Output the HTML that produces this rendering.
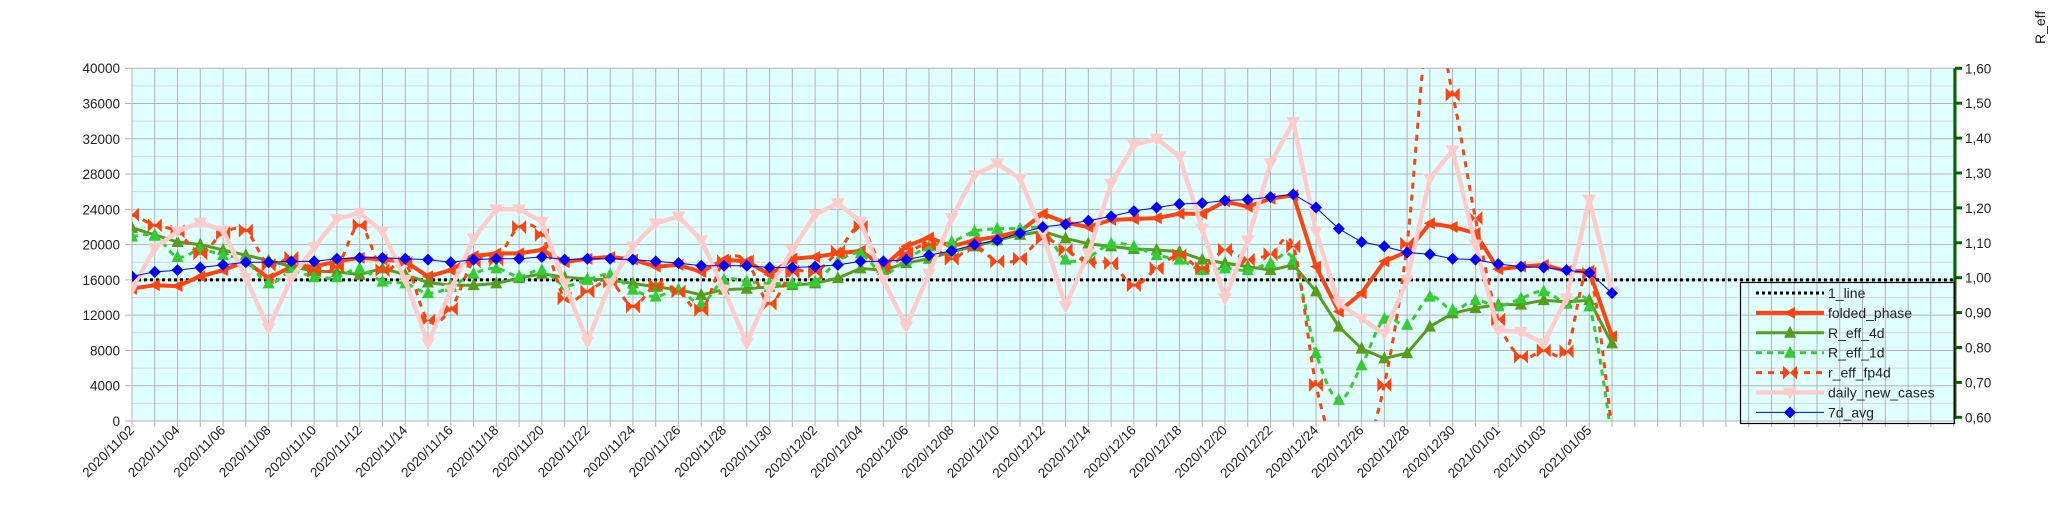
<!DOCTYPE html>
<html><head><meta charset="utf-8"><style>
html,body{margin:0;padding:0;background:#fff;}
svg{display:block;font-family:"Liberation Sans",sans-serif;}
</style></head><body>
<svg id="c" width="2048" height="527" xmlns="http://www.w3.org/2000/svg"></svg>
<script>
const L=132,DX=22.77,Y0=421,PK=8.82,TOP=68.3,R=1954;
const X=i=>L+DX*i, Y=v=>Y0-v*PK;
let s='';
s+=`<rect x="${L}" y="${TOP}" width="${R-L}" height="${Y0-TOP}" fill="#e0ffff"/>`;
for(let k=2;k<40;k+=4){s+=`<line x1="${L}" x2="${R}" y1="${Y(k)}" y2="${Y(k)}" stroke="#d6d6d6" stroke-width="1"/>`;}
for(let i=0;i<=80;i++){s+=`<line x1="${X(i)}" x2="${X(i)}" y1="${TOP}" y2="${Y0+6}" stroke="#b3b3b3" stroke-width="1"/>`;}
for(let k=0;k<=40;k+=4){s+=`<line x1="${L-7}" x2="${R}" y1="${Y(k)}" y2="${Y(k)}" stroke="#b3b3b3" stroke-width="1"/>`;
s+=`<text x="120" y="${Y(k)+5}" font-size="13.5" text-anchor="end" fill="#222">${k*1000}</text>`;}
// right axis
s+=`<line x1="1955" x2="1955" y1="${TOP}" y2="419" stroke="#006400" stroke-width="3"/>`;
for(let j=0;j<=10;j++){const y=68.3+j*34.9;s+=`<line x1="1955" x2="1962" y1="${y}" y2="${y}" stroke="#006400" stroke-width="3"/>`;
s+=`<text x="1965" y="${y+5}" font-size="13.5" fill="#222">${(1.6-j*0.1).toFixed(2).replace('.',',')}</text>`;}
s+=`<text transform="translate(2045,44) rotate(-90)" font-size="14" fill="#222">R_eff</text>`;
// x labels
const dates=[];for(let i=0;i<=64;i+=2){const d=new Date(Date.UTC(2020,10,2+i));dates.push([i,d.getUTCFullYear()+'/'+String(d.getUTCMonth()+1).padStart(2,'0')+'/'+String(d.getUTCDate()).padStart(2,'0')]);}
dates.forEach(([i,t])=>{s+=`<text transform="translate(${X(i)+3},${Y0+10}) rotate(-45)" font-size="13.5" text-anchor="end" fill="#222">${t}</text>`;});
// data
const d7=[16.4,16.9,17.1,17.4,17.7,18.0,18.0,18.1,18.1,18.4,18.5,18.5,18.4,18.3,18.0,18.3,18.4,18.4,18.6,18.3,18.4,18.4,18.3,18.1,17.9,17.6,17.6,17.6,17.4,17.4,17.5,17.7,18.1,18.1,18.3,18.8,19.3,20.0,20.5,21.3,22.0,22.3,22.7,23.2,23.8,24.2,24.6,24.7,25.0,25.1,25.4,25.7,24.2,21.8,20.3,19.8,19.1,18.9,18.4,18.3,17.8,17.5,17.4,17.1,16.8,14.5];
const fp=[15.0,15.4,15.3,16.4,17.1,18.1,16.2,17.5,17.5,18.1,18.5,18.3,18.1,16.4,17.1,18.7,19.0,19.0,19.4,18.0,18.4,18.6,18.3,17.5,17.7,16.9,18.3,18.1,16.6,18.4,18.6,19.0,19.3,17.5,19.8,20.8,19.8,20.5,20.9,21.5,23.5,22.5,22.0,22.8,22.9,23.0,23.5,23.5,24.9,24.3,25.2,25.6,17.5,12.4,14.5,18.1,19.2,22.4,22.0,21.3,17.2,17.5,17.7,17.0,17.0,9.6];
const r4=[21.9,21.1,20.3,20.0,19.4,18.8,18.2,17.5,17.0,16.9,16.6,17.3,16.6,15.7,15.4,15.4,15.6,16.2,16.7,16.3,16.1,16.0,15.6,15.2,14.9,14.3,14.9,15.0,15.2,15.4,15.6,16.2,17.3,17.1,17.9,18.4,19.2,19.8,20.5,21.1,21.5,20.7,20.1,19.8,19.5,19.4,19.2,18.3,17.9,17.5,17.1,17.7,14.7,10.7,8.2,7.1,7.7,10.7,12.2,12.8,13.2,13.2,13.7,13.5,13.7,8.8];
const r1=[20.9,21.0,18.6,19.4,18.8,18.2,15.6,17.0,16.3,16.3,17.3,15.8,15.6,14.5,15.2,16.7,17.3,16.4,17.1,15.4,16.0,16.6,14.9,14.1,14.9,13.3,16.0,15.8,15.6,15.6,15.8,18.1,19.0,16.7,18.3,19.8,20.3,21.5,21.8,21.8,21.7,18.3,18.6,20.1,19.8,18.8,18.3,17.1,17.3,17.1,17.9,18.3,7.7,2.4,6.3,11.6,10.9,14.1,12.6,13.7,13.0,13.9,14.7,13.3,13.0,-2];
const f4=[23.4,22.2,21.5,19.0,21.3,21.6,17.7,18.5,17.1,17.5,22.2,17.1,17.9,11.4,12.7,18.1,18.3,22.0,21.1,13.9,14.7,15.8,13.0,15.4,14.7,12.6,18.1,18.1,13.3,16.9,16.9,19.2,22.0,17.5,19.0,20.0,18.4,19.8,18.1,18.4,20.7,19.4,18.0,17.9,15.4,17.3,18.8,17.3,19.4,18.3,18.9,19.8,4.1,-4,-4,4.1,20.1,46,37.0,23.0,11.5,7.3,8.0,7.9,16.7,-1];
const dn=[15.0,19.6,21.5,22.5,21.6,16.2,10.5,16.2,19.7,22.9,23.6,21.5,16.0,8.8,14.9,20.7,24.0,24.0,22.6,15.6,9.0,15.6,19.8,22.4,23.2,20.5,14.9,8.8,14.9,19.4,23.4,24.7,22.6,16.0,10.7,16.7,23.0,27.9,29.2,27.5,21.3,13.0,19.0,26.9,31.3,32.0,30.0,21.8,13.9,20.5,29.2,33.9,21.5,13.3,11.6,9.9,16.0,27.5,30.7,20.0,10.3,10.1,8.8,13.9,25.1,14.7];
const pts=a=>a.map((v,i)=>[X(i),Y(v)]);
function poly(a){return 'M'+pts(a).map(p=>p[0].toFixed(1)+','+p[1].toFixed(1)).join('L');}
function smooth(a){const p=pts(a);let d='M'+p[0][0]+','+p[0][1];
for(let i=0;i<p.length-1;i++){const p0=p[i-1]||p[i],p1=p[i],p2=p[i+1],p3=p[i+2]||p2;
const c1=[p1[0]+(p2[0]-p0[0])/6,p1[1]+(p2[1]-p0[1])/6],c2=[p2[0]-(p3[0]-p1[0])/6,p2[1]-(p3[1]-p1[1])/6];
d+=`C${c1[0].toFixed(1)},${c1[1].toFixed(1)} ${c2[0].toFixed(1)},${c2[1].toFixed(1)} ${p2[0].toFixed(1)},${p2[1].toFixed(1)}`;}return d;}
const mk={
 left:(x,y,c)=>`<polygon points="${x-6},${y} ${x+5},${y-6} ${x+5},${y+6}" fill="${c}"/>`,
 up:(x,y,c)=>`<polygon points="${x},${y-7} ${x-6},${y+5} ${x+6},${y+5}" fill="${c}"/>`,
 down:(x,y,c)=>`<polygon points="${x},${y+7} ${x-7},${y-5} ${x+7},${y-5}" fill="${c}"/>`,
 bow:(x,y,c)=>`<polygon points="${x-7},${y-7} ${x},${y} ${x-7},${y+7}" fill="${c}"/><polygon points="${x+7},${y-7} ${x},${y} ${x+7},${y+7}" fill="${c}"/>`,
 dia:(x,y,c)=>`<polygon points="${x},${y-6} ${x+6},${y} ${x},${y+6} ${x-6},${y}" fill="${c}"/>`};
s+=`<clipPath id="cp"><rect x="${L}" y="${TOP}" width="${R-L}" height="${Y0-TOP}"/></clipPath><g clip-path="url(#cp)">`;
s+=`<line x1="${L}" x2="${R}" y1="${Y(16)}" y2="${Y(16)}" stroke="#000" stroke-width="3" stroke-dasharray="3,3"/>`;
function ser(a,c,w,dash,m,sm){s+=`<path d="${sm?smooth(a):poly(a)}" fill="none" stroke="${c}" stroke-width="${w}" ${dash?`stroke-dasharray="${dash}"`:''} stroke-linejoin="round"/>`;
pts(a).forEach(p=>s+=mk[m](p[0],p[1],c));}
ser(fp,'#ff420e',4,'', 'left',false);
ser(r4,'#579d1c',3,'', 'up',false);
ser(r1,'#33cc33',3,'6,5','up',true);
ser(f4,'#ff420e',3,'6,6','bow',true);
ser(dn,'#ffcccc',4.5,'','down',false);
ser(d7,'#0000ff',1,'','dia',false);
s+='</g>';
// legend
s+=`<rect x="1740.5" y="282.5" width="214" height="141" fill="none" stroke="#000" stroke-width="1.2"/>`;
const lg=[['1_line','#000',3,'3,3',null],['folded_phase','#ff420e',4,'','left'],['R_eff_4d','#579d1c',3,'','up'],['R_eff_1d','#33cc33',3,'6,5','up'],['r_eff_fp4d','#ff420e',3,'6,6','bow'],['daily_new_cases','#ffcccc',4.5,'','down'],['7d_avg','#0000ff',1,'','dia']];
lg.forEach((e,k)=>{const y=293+k*19.9;s+=`<line x1="1756" x2="1824" y1="${y}" y2="${y}" stroke="${e[1]}" stroke-width="${e[2]}" ${e[3]?`stroke-dasharray="${e[3]}"`:''}/>`;
if(e[4])s+=mk[e[4]](1790,y,e[1]);s+=`<text x="1828" y="${y+5}" font-size="14" fill="#222">${e[0]}</text>`;});
document.getElementById('c').innerHTML=s;
</script>
</body></html>
